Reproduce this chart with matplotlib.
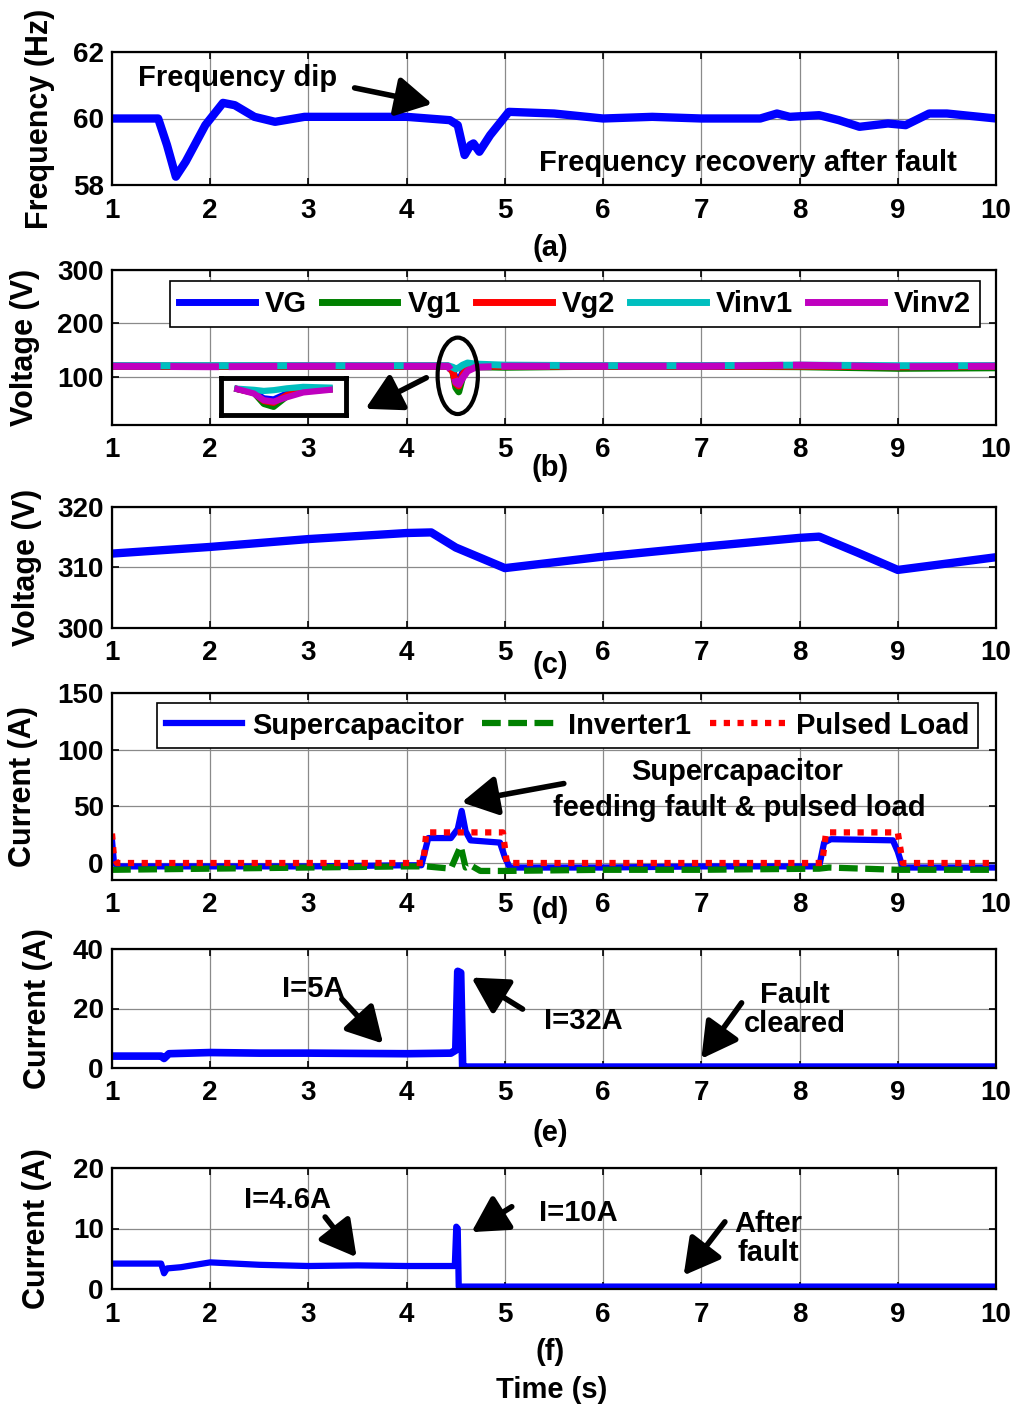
import numpy as np
import matplotlib
matplotlib.use('Agg')
import matplotlib.pyplot as plt
from matplotlib.patches import Ellipse
from matplotlib.lines import Line2D

plt.rcParams['font.family'] = ['Liberation Sans', 'DejaVu Sans']
plt.rcParams['font.weight'] = 'bold'

# ---------------- data ----------------
# (a) frequency
t_a = [1.0, 1.47, 1.56, 1.65, 1.75, 1.95, 2.13, 2.25, 2.45, 2.66, 2.96, 3.5, 4.0, 4.44, 4.52,
       4.59, 4.65, 4.68, 4.74, 4.85, 5.04, 5.5, 6.0, 6.5, 7.0, 7.6, 7.77, 7.9, 8.2, 8.4, 8.61,
       8.9, 9.08, 9.32, 9.5, 10.0]
f_a = [60.0, 60.0, 59.2, 58.25, 58.7, 59.8, 60.47, 60.4, 60.05, 59.9, 60.05, 60.05, 60.05, 59.95, 59.8,
       58.9, 59.2, 59.25, 59.0, 59.5, 60.2, 60.15, 60.0, 60.05, 60.0, 60.0, 60.15, 60.05, 60.1, 59.95, 59.75,
       59.85, 59.8, 60.15, 60.15, 60.0]

# (b) voltages
t_b = [1.0, 2.0, 3.0, 4.0, 4.42, 4.47, 4.50, 4.53, 4.57, 4.62, 4.70, 5.0, 6.0, 7.0, 8.0, 9.0, 10.0]
VG = [120, 120, 120, 120, 120, 112, 95, 92, 108, 118, 121, 120, 120, 120, 121, 119, 120]
Vg1 = [120, 120, 120, 120, 120, 110, 80, 72, 100, 115, 119, 118, 120, 120, 119, 116, 117]
Vg2 = [120, 120, 120, 120, 120, 110, 88, 83, 104, 117, 120, 120, 120, 120, 120, 119, 120]
Vinv1 = [121, 121, 121, 121, 121, 118, 115, 117, 122, 126, 124, 122, 121, 121, 122, 121, 121]
Vinv2 = [120, 119, 120, 120, 120, 108, 90, 86, 98, 111, 118, 120, 120, 120, 122, 119, 120]
legend_b = ['VG', 'Vg1', 'Vg2', 'Vinv1', 'Vinv2']

# (c) DC voltage
t_c = [1.0, 2.0, 3.0, 4.0, 4.25, 4.5, 5.0, 6.0, 7.0, 8.0, 8.2, 8.6, 9.0, 10.0]
V_c = [312.3, 313.4, 314.7, 315.7, 315.8, 313.3, 309.9, 311.8, 313.4, 314.9, 315.1, 312.4, 309.6, 311.7]

# (d) currents
t_sc = [1.0, 1.02, 1.06, 2.0, 3.0, 4.0, 4.15, 4.22, 4.45, 4.52, 4.56, 4.60, 4.65, 4.95, 5.0, 5.05,
        6.0, 7.0, 8.2, 8.25, 8.32, 8.95, 9.0, 9.05, 10.0]
I_sc = [20, 0, -3, -3, -3, -2, -2, 22, 22, 30, 46, 28, 20, 18, 5, -4,
        -4, -3, -3, 18, 21, 20, 10, -4, -4]
t_inv = [1.0, 2.0, 3.0, 4.0, 4.2, 4.45, 4.5, 4.55, 4.6, 4.65, 4.75, 5.0, 6.0, 7.0, 8.2, 8.3, 9.0, 10.0]
I_inv = [-6, -5, -4, -3, -3, -5, 5, 15, -4, -2, -7, -7, -6, -6, -5, -4, -6, -6]
t_pl = [1.0, 1.02, 1.05, 4.17, 4.20, 4.98, 5.02, 8.23, 8.27, 9.0, 9.05, 10.0]
I_pl = [26, 5, 0, 0, 27, 27, 0, 0, 27, 27, 0, 0]
legend_d = ['Supercapacitor', 'Inverter1', 'Pulsed Load']

# (e) fault current
t_e = [1.0, 1.5, 1.53, 1.58, 2.0, 2.5, 3.0, 3.5, 4.0, 4.45, 4.5, 4.52, 4.55, 4.57, 4.62, 10.0]
I_e = [4.0, 4.0, 3.2, 4.8, 5.2, 5.0, 5.0, 4.9, 4.8, 5.0, 6.0, 32.5, 32.0, 0.4, 0.3, 0.3]

# (f) current
t_f = [1.0, 1.5, 1.53, 1.56, 1.7, 2.0, 2.5, 3.0, 3.5, 4.0, 4.49, 4.505, 4.52, 4.53, 10.0]
I_f = [4.2, 4.2, 2.6, 3.4, 3.6, 4.4, 4.0, 3.8, 3.9, 3.8, 3.8, 10.3, 10.0, 0.4, 0.4]

xticks = list(range(1, 11))

# ---------------- layout ----------------
W, H = 1018, 1410
fig = plt.figure(figsize=(W / 100, H / 100), dpi=100)


def add_ax(top, bottom, left=112, right=996):
    return fig.add_axes([left / W, 1 - bottom / H, (right - left) / W, (bottom - top) / H])


def style(ax, ylim, yticks, ylabel, label_right_px):
    ax.set_xlim(1, 10)
    ax.set_ylim(*ylim)
    ax.set_xticks(xticks)
    ax.set_yticks(yticks)
    ax.grid(True, color='#8a8a8a', lw=0.9)
    ax.set_axisbelow(True)
    ax.tick_params(direction='in', length=5, width=1.2, top=True, right=True, labelsize=20)
    ax.tick_params(axis='x', pad=9)
    ax.tick_params(axis='y', pad=6)
    for s in ax.spines.values():
        s.set_linewidth(1.6)
    for lab in ax.get_xticklabels() + ax.get_yticklabels():
        lab.set_fontweight('bold')
    ax.set_ylabel(ylabel, fontsize=22, fontweight='bold')
    ax.yaxis.set_label_coords((label_right_px - 112) / 884, 0.5)


def arrow(ax, tail, head):
    ax.annotate('', xy=head, xytext=tail,
                arrowprops=dict(arrowstyle='-|>,head_length=0.9,head_width=0.5', lw=4,
                                color='black', mutation_scale=24, shrinkA=0, shrinkB=0))


def figtext(px, py, s):
    fig.text(px / W, 1 - py / H, s, ha='center', va='center', fontsize=21, fontweight='bold')


BLUE = (0, 0, 1)
GREEN = (0, 0.5, 0)
RED = (1, 0, 0)
CYAN = (0, 0.75, 0.75)
MAG = (0.75, 0, 0.75)
TFS = 21

# (a)
ax = add_ax(52, 185)
ax.plot(t_a, f_a, color=BLUE, lw=6, solid_joinstyle='round', solid_capstyle='butt')
style(ax, (58, 62), [58, 60, 62], 'Frequency (Hz)', 55)
ax.text(2.28, 61.22, 'Frequency dip', ha='center', va='center', fontsize=TFS, fontweight='bold')
arrow(ax, (3.47, 60.92), (4.26, 60.44))
ax.text(7.47, 58.66, 'Frequency recovery after fault', ha='center', va='center', fontsize=TFS,
        fontweight='bold')
figtext(550, 248, '(a)')

# (b)
ax = add_ax(270, 425)
for v, c in zip([VG, Vg1, Vg2, Vinv1], [BLUE, GREEN, RED, CYAN]):
    ax.plot(t_b, v, color=c, lw=5)
ax.plot(t_b, Vinv2, color=MAG, lw=5, dashes=(7, 1.4))
style(ax, (10, 300), [100, 200, 300], 'Voltage (V)', 40)
handles = [Line2D([], [], color=c, lw=5) for c in [BLUE, GREEN, RED, CYAN, MAG]]
leg = ax.legend(handles, legend_b, ncol=5, loc='center', bbox_to_anchor=(0.0656, 0.613, 0.9164, 0.335),
                mode='expand', fontsize=TFS, frameon=True, fancybox=False, edgecolor='black',
                framealpha=1, handlelength=2.6, handletextpad=0.35, columnspacing=0.45,
                borderaxespad=0, borderpad=0.3)
leg.get_frame().set_linewidth(1.2)
ax.add_patch(Ellipse((4.52, 102), 0.41, 143, fill=False, lw=3, edgecolor='black', zorder=5))
arrow(ax, (4.20, 98.4), (3.58, 40.3))
# inset
ins = fig.add_axes([221 / W, 1 - 415 / H, 125 / W, 37 / H])
sel = [i for i, t in enumerate(t_b) if 4.42 <= t <= 4.70]
for v, c in zip([VG, Vg1, Vg2, Vinv1, Vinv2], [BLUE, GREEN, RED, CYAN, MAG]):
    ins.plot([t_b[i] for i in sel], [v[i] for i in sel], color=c, lw=4.5)
ins.set_xlim(4.37, 4.75)
ins.set_ylim(50, 150)
ins.set_xticks([])
ins.set_yticks([])
for s in ins.spines.values():
    s.set_linewidth(3.5)
figtext(550, 468, '(b)')

# (c)
ax = add_ax(507, 628)
ax.plot(t_c, V_c, color=BLUE, lw=6, solid_joinstyle='round')
style(ax, (300, 320), [300, 310, 320], 'Voltage (V)', 42)
figtext(550, 665, '(c)')

# (d)
ax = add_ax(693, 880)
ax.plot(t_sc, I_sc, color=BLUE, lw=4.5, label=legend_d[0])
ax.plot(t_inv, I_inv, color=GREEN, lw=4.5, dashes=(3, 1.2), label=legend_d[1])
ax.plot(t_pl, I_pl, color=RED, lw=4.5, dashes=(1, 1.2), label=legend_d[2])
style(ax, (-15, 150), [0, 50, 100, 150], 'Current (A)', 38)
leg = ax.legend(ncol=3, loc='center', bbox_to_anchor=(0.0509, 0.6898, 0.9287, 0.2728), mode='expand',
                fontsize=TFS, frameon=True, fancybox=False, edgecolor='black', framealpha=1,
                handlelength=2.6, handletextpad=0.35, columnspacing=0.5, borderaxespad=0, borderpad=0.3)
leg.get_frame().set_linewidth(1.2)
ax.text(7.36, 80.5, 'Supercapacitor', ha='center', va='center', fontsize=TFS, fontweight='bold')
ax.text(7.39, 48.5, 'feeding fault & pulsed load', ha='center', va='center', fontsize=TFS,
        fontweight='bold')
arrow(ax, (5.60, 70.1), (4.56, 53.5))
figtext(550, 910, '(d)')

# (e)
ax = add_ax(949, 1068)
ax.plot(t_e, I_e, color=BLUE, lw=5.5)
style(ax, (0, 40), [0, 20, 40], 'Current (A)', 53)
ax.text(3.05, 26.7, 'I=5A', ha='center', va='center', fontsize=TFS, fontweight='bold')
arrow(ax, (3.34, 23.2), (3.76, 8.2))
ax.text(5.80, 15.7, 'I=32A', ha='center', va='center', fontsize=TFS, fontweight='bold')
arrow(ax, (5.18, 19.8), (4.66, 30.4))
ax.text(7.95, 19.7, 'Fault\ncleared', ha='center', va='center', fontsize=TFS, fontweight='bold',
        linespacing=1.05)
arrow(ax, (7.41, 21.9), (7.0, 3.1))
figtext(550, 1133, '(e)')

# (f)
ax = add_ax(1168, 1289)
ax.plot(t_f, I_f, color=BLUE, lw=4.5)
style(ax, (0, 20), [0, 10, 20], 'Current (A)', 52)
ax.text(2.79, 14.75, 'I=4.6A', ha='center', va='center', fontsize=TFS, fontweight='bold')
arrow(ax, (3.17, 11.9), (3.49, 5.25))
ax.text(5.75, 12.6, 'I=10A', ha='center', va='center', fontsize=TFS, fontweight='bold')
arrow(ax, (5.07, 13.6), (4.66, 9.4))
ax.text(7.68, 8.4, 'After\nfault', ha='center', va='center', fontsize=TFS, fontweight='bold',
        linespacing=1.05)
arrow(ax, (7.24, 11.1), (6.82, 2.25))
figtext(550, 1352, '(f)')
figtext(552, 1390, 'Time (s)')

fig.savefig('out.png', dpi=100)
